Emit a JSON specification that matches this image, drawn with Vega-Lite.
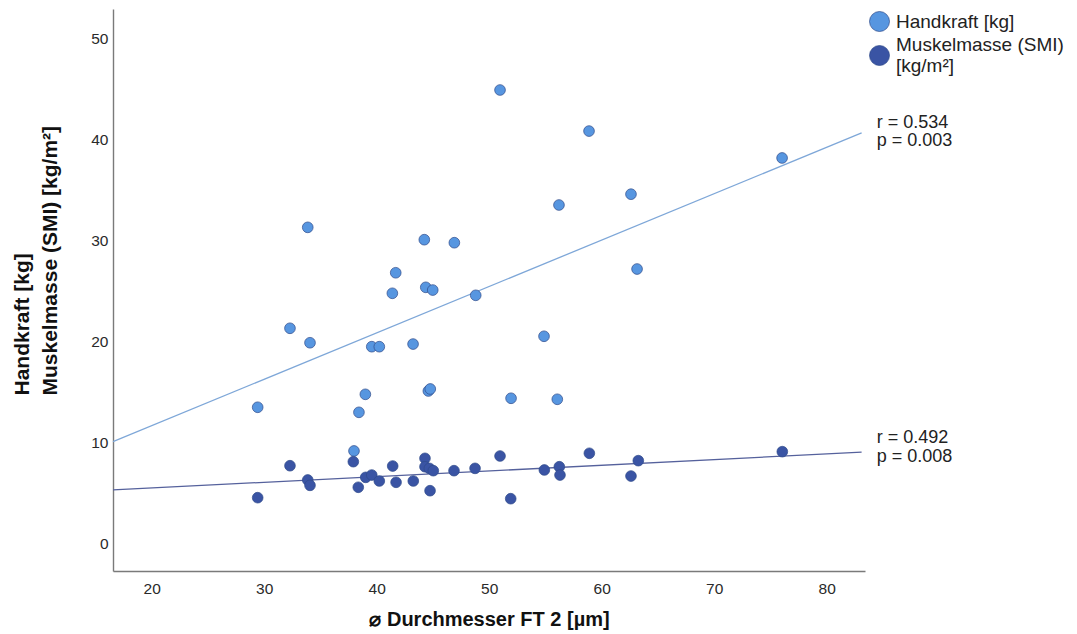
{
  "$schema": "https://vega.github.io/schema/vega-lite/v6.json",
  "width": 752,
  "height": 562,
  "autosize": {"type": "none"},
  "padding": {"left": 113, "top": 9, "right": 212, "bottom": 63},
  "background": "white",
  "config": {
    "view": {"stroke": null},
    "font": "Liberation Sans",
    "axis": {"grid": false, "ticks": false, "domainColor": "#7a7a7a", "domainWidth": 1.4, "labelColor": "#2a2a2a", "labelFontSize": 15.5, "labelFont": "Liberation Sans", "titleFont": "Liberation Sans", "titleFontWeight": "bold", "titleColor": "#111111"}
  },
  "datasets": {
    "punkte": [
      {"durchmesser": 29.42, "wert": 13.52, "serie": "Handkraft [kg]"},
      {"durchmesser": 32.29, "wert": 21.33, "serie": "Handkraft [kg]"},
      {"durchmesser": 33.87, "wert": 31.31, "serie": "Handkraft [kg]"},
      {"durchmesser": 34.07, "wert": 19.90, "serie": "Handkraft [kg]"},
      {"durchmesser": 37.98, "wert": 9.20, "serie": "Handkraft [kg]"},
      {"durchmesser": 38.42, "wert": 13.02, "serie": "Handkraft [kg]"},
      {"durchmesser": 38.99, "wert": 14.80, "serie": "Handkraft [kg]"},
      {"durchmesser": 39.56, "wert": 19.51, "serie": "Handkraft [kg]"},
      {"durchmesser": 40.23, "wert": 19.51, "serie": "Handkraft [kg]"},
      {"durchmesser": 41.69, "wert": 26.82, "serie": "Handkraft [kg]"},
      {"durchmesser": 41.39, "wert": 24.79, "serie": "Handkraft [kg]"},
      {"durchmesser": 43.23, "wert": 19.77, "serie": "Handkraft [kg]"},
      {"durchmesser": 44.23, "wert": 30.09, "serie": "Handkraft [kg]"},
      {"durchmesser": 44.36, "wert": 25.38, "serie": "Handkraft [kg]"},
      {"durchmesser": 44.98, "wert": 25.11, "serie": "Handkraft [kg]"},
      {"durchmesser": 44.59, "wert": 15.13, "serie": "Handkraft [kg]"},
      {"durchmesser": 44.76, "wert": 15.33, "serie": "Handkraft [kg]"},
      {"durchmesser": 46.90, "wert": 29.79, "serie": "Handkraft [kg]"},
      {"durchmesser": 48.80, "wert": 24.59, "serie": "Handkraft [kg]"},
      {"durchmesser": 50.96, "wert": 44.89, "serie": "Handkraft [kg]"},
      {"durchmesser": 51.94, "wert": 14.41, "serie": "Handkraft [kg]"},
      {"durchmesser": 54.87, "wert": 20.54, "serie": "Handkraft [kg]"},
      {"durchmesser": 56.20, "wert": 33.52, "serie": "Handkraft [kg]"},
      {"durchmesser": 56.05, "wert": 14.31, "serie": "Handkraft [kg]"},
      {"durchmesser": 58.87, "wert": 40.83, "serie": "Handkraft [kg]"},
      {"durchmesser": 62.60, "wert": 34.59, "serie": "Handkraft [kg]"},
      {"durchmesser": 63.14, "wert": 27.19, "serie": "Handkraft [kg]"},
      {"durchmesser": 76.03, "wert": 38.17, "serie": "Handkraft [kg]"},
      {"durchmesser": 29.42, "wert": 4.58, "serie": "Muskelmasse (SMI) [kg/m²]"},
      {"durchmesser": 32.29, "wert": 7.74, "serie": "Muskelmasse (SMI) [kg/m²]"},
      {"durchmesser": 33.87, "wert": 6.33, "serie": "Muskelmasse (SMI) [kg/m²]"},
      {"durchmesser": 34.07, "wert": 5.80, "serie": "Muskelmasse (SMI) [kg/m²]"},
      {"durchmesser": 37.92, "wert": 8.14, "serie": "Muskelmasse (SMI) [kg/m²]"},
      {"durchmesser": 38.36, "wert": 5.61, "serie": "Muskelmasse (SMI) [kg/m²]"},
      {"durchmesser": 39.02, "wert": 6.59, "serie": "Muskelmasse (SMI) [kg/m²]"},
      {"durchmesser": 39.56, "wert": 6.82, "serie": "Muskelmasse (SMI) [kg/m²]"},
      {"durchmesser": 40.23, "wert": 6.23, "serie": "Muskelmasse (SMI) [kg/m²]"},
      {"durchmesser": 41.42, "wert": 7.71, "serie": "Muskelmasse (SMI) [kg/m²]"},
      {"durchmesser": 41.72, "wert": 6.10, "serie": "Muskelmasse (SMI) [kg/m²]"},
      {"durchmesser": 43.25, "wert": 6.23, "serie": "Muskelmasse (SMI) [kg/m²]"},
      {"durchmesser": 44.29, "wert": 8.47, "serie": "Muskelmasse (SMI) [kg/m²]"},
      {"durchmesser": 44.29, "wert": 7.64, "serie": "Muskelmasse (SMI) [kg/m²]"},
      {"durchmesser": 44.68, "wert": 7.48, "serie": "Muskelmasse (SMI) [kg/m²]"},
      {"durchmesser": 45.03, "wert": 7.25, "serie": "Muskelmasse (SMI) [kg/m²]"},
      {"durchmesser": 44.74, "wert": 5.27, "serie": "Muskelmasse (SMI) [kg/m²]"},
      {"durchmesser": 46.87, "wert": 7.25, "serie": "Muskelmasse (SMI) [kg/m²]"},
      {"durchmesser": 48.74, "wert": 7.48, "serie": "Muskelmasse (SMI) [kg/m²]"},
      {"durchmesser": 50.96, "wert": 8.70, "serie": "Muskelmasse (SMI) [kg/m²]"},
      {"durchmesser": 51.91, "wert": 4.48, "serie": "Muskelmasse (SMI) [kg/m²]"},
      {"durchmesser": 54.90, "wert": 7.32, "serie": "Muskelmasse (SMI) [kg/m²]"},
      {"durchmesser": 56.23, "wert": 7.64, "serie": "Muskelmasse (SMI) [kg/m²]"},
      {"durchmesser": 56.29, "wert": 6.82, "serie": "Muskelmasse (SMI) [kg/m²]"},
      {"durchmesser": 58.90, "wert": 8.97, "serie": "Muskelmasse (SMI) [kg/m²]"},
      {"durchmesser": 62.60, "wert": 6.72, "serie": "Muskelmasse (SMI) [kg/m²]"},
      {"durchmesser": 63.25, "wert": 8.24, "serie": "Muskelmasse (SMI) [kg/m²]"},
      {"durchmesser": 76.05, "wert": 9.13, "serie": "Muskelmasse (SMI) [kg/m²]"}
    ],
    "statistik": [
      {"durchmesser": 84.44, "wert": 41.66, "text": "r = 0.534"},
      {"durchmesser": 84.44, "wert": 39.88, "text": "p = 0.003"},
      {"durchmesser": 84.44, "wert": 10.45, "text": "r = 0.492"},
      {"durchmesser": 84.44, "wert": 8.63, "text": "p = 0.008"}
    ]
  },
  "encoding": {
    "x": {
      "field": "durchmesser", "type": "quantitative",
      "scale": {"domain": [16.56, 83.4], "nice": false, "zero": false},
      "axis": {"values": [20, 30, 40, 50, 60, 70, 80], "title": "⌀ Durchmesser FT 2 [µm]", "titleFontSize": 20, "labelPadding": 10, "titlePadding": 13}
    },
    "y": {
      "field": "wert", "type": "quantitative",
      "scale": {"domain": [-2.67, 52.9], "nice": false, "zero": false},
      "axis": {"values": [0, 10, 20, 30, 40, 50], "title": ["Handkraft [kg]", "Muskelmasse (SMI) [kg/m²]"], "titleFontSize": 21, "titleLineHeight": 28, "labelPadding": 5, "titlePadding": 30, "titleAlign": "left", "titleY": 386}
    }
  },
  "layer": [
    {
      "data": {"name": "punkte"},
      "transform": [
        {"filter": "datum.serie == 'Handkraft [kg]'"},
        {"regression": "wert", "on": "durchmesser", "extent": [16.56, 83.1]}
      ],
      "mark": {"type": "line", "color": "#7ea7d8", "strokeWidth": 1.3, "clip": false},
      "encoding": {}
    },
    {
      "data": {"name": "punkte"},
      "transform": [
        {"filter": "datum.serie != 'Handkraft [kg]'"},
        {"regression": "wert", "on": "durchmesser", "extent": [16.56, 83.1]}
      ],
      "mark": {"type": "line", "color": "#55619c", "strokeWidth": 1.3, "clip": false},
      "encoding": {}
    },
    {
      "data": {"name": "punkte"},
      "mark": {"type": "point", "filled": true, "opacity": 1, "size": 115, "stroke": "#2f4a8a", "strokeWidth": 0.7},
      "encoding": {
        "color": {
          "field": "serie", "type": "nominal",
          "scale": {"domain": ["Handkraft [kg]", "Muskelmasse (SMI) [kg/m²]"], "range": ["#5796e0", "#3a54a4"]},
          "legend": {
            "title": null, "orient": "none", "legendX": 756, "legendY": 2,
            "symbolType": "circle", "symbolSize": 400, "symbolStrokeColor": "#2f4a8a", "symbolStrokeWidth": 0.7, "symbolOpacity": 1,
            "labelFontSize": 19, "labelColor": "#222222", "labelFont": "Liberation Sans", "labelOffset": 6, "rowPadding": 2, "labelLimit": 300,
            "labelExpr": "datum.label == 'Muskelmasse (SMI) [kg/m²]' ? ['Muskelmasse (SMI)', '[kg/m²]'] : datum.label",
            "encode": {"labels": {"update": {"lineHeight": {"value": 21.8}, "dy": {"signal": "datum.index == 1 ? -10.9 : 0"}}}}
          }
        }
      }
    },
    {
      "data": {"name": "statistik"},
      "mark": {"type": "text", "align": "left", "baseline": "middle", "fontSize": 18, "color": "#222222", "clip": false},
      "encoding": {"text": {"field": "text"}}
    }
  ]
}
